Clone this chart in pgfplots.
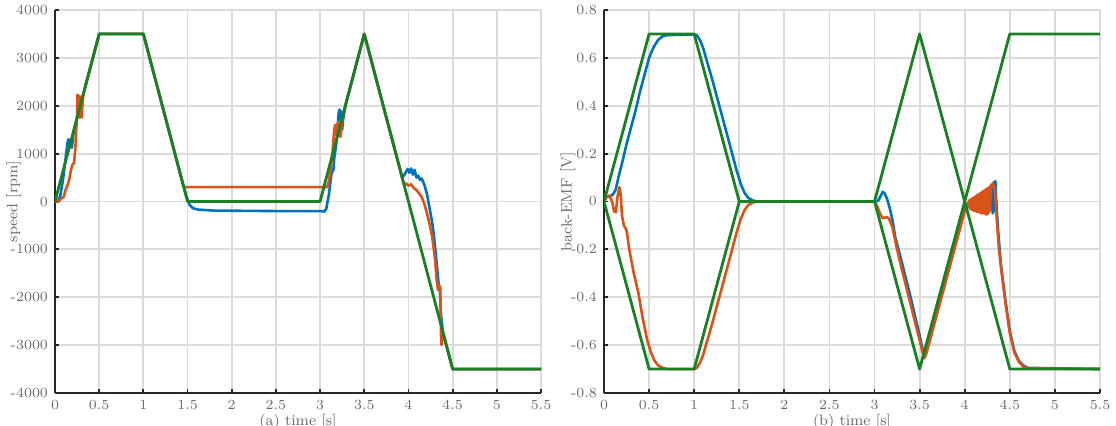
\documentclass[border=0pt]{standalone}
\usepackage{pgfplots}
\pgfplotsset{compat=1.18}
\definecolor{mblue}{RGB}{0,114,189}
\definecolor{morange}{RGB}{217,83,25}
\definecolor{mgreen}{RGB}{25,128,35}
\definecolor{lab}{RGB}{105,105,105}
\pgfplotsset{
 mystyle/.style={
  scale only axis, height=191.5pt,
  axis lines=left, axis line style={-, line width=1.1pt, color=black!85},
  tick align=inside, major tick length=2.2pt,
  tick style={line width=0.9pt, color=black!85},
  grid=major, grid style={line width=0.9pt, color=black!14},
  xmin=0, xmax=5.5,
  xtick={0,0.5,1,1.5,2,2.5,3,3.5,4,4.5,5,5.5},
  xticklabels={0,0.5,1,1.5,2,2.5,3,3.5,4,4.5,5,5.5},
  ticklabel style={font=\fontsize{7}{8}\selectfont, text=lab},
  every axis plot/.append style={line width=1.3pt, line join=round},
  every axis x label/.style={at={(axis description cs:0.5,-0.075)}, anchor=center, font=\fontsize{7.5}{8}\selectfont, text=lab},
  every axis y label/.style={rotate=90, anchor=center, inner sep=0pt, font=\fontsize{7.5}{8}\selectfont, text=lab},
 }}
\begin{document}
\begin{tikzpicture}
\useasboundingbox (0,0) rectangle (558pt,213pt);
% ---------- (a) speed ----------
\begin{axis}[mystyle, at={(27.5pt,16.5pt)}, anchor=south west, width=243pt,
  ymin=-4000, ymax=4000,
  ytick={-4000,-3000,-2000,-1000,0,1000,2000,3000,4000},
  yticklabels={-4000,-3000,-2000,-1000,0,1000,2000,3000,4000},
  xlabel={(a) time [s]}, ylabel={\textnormal{speed [rpm]}},
  ylabel style={at={(axis description cs:-0.085,0.5)}}]
\addplot[mblue] coordinates {(0,0)(0.03,0)(0.06,120)(0.09,450)(0.12,900)(0.14,1200)(0.15,1300)(0.16,1250)(0.17,1150)(0.18,1300)(0.19,1120)(0.21,1450)(0.25,1750)(0.5,3500)(1,3500)(1.44,420)(1.48,150)(1.52,-60)(1.56,-140)(1.62,-170)(1.8,-190)(2.5,-200)(3.0,-200)(3.05,-210)(3.07,-150)(3.1,150)(3.13,600)(3.15,650)(3.16,900)(3.19,1300)(3.21,1850)(3.22,1920)(3.23,1700)(3.24,1880)(3.25,1500)(3.26,1700)(3.29,2030)(3.5,3500)(3.93,500)(3.96,580)(3.99,680)(4.01,600)(4.03,690)(4.05,560)(4.07,660)(4.09,500)(4.11,540)(4.13,450)(4.15,480)(4.18,350)(4.21,150)(4.24,-150)(4.27,-450)(4.29,-750)(4.31,-1100)(4.33,-1500)(4.345,-1800)(4.355,-1850)(4.37,-2400)(4.39,-2730)(4.5,-3500)(5.5,-3500)};
\addplot[morange] coordinates {(0,0)(0.04,0)(0.07,60)(0.1,100)(0.12,250)(0.14,330)(0.16,450)(0.18,650)(0.2,780)(0.215,800)(0.23,1100)(0.24,1500)(0.25,1800)(0.255,2230)(0.265,2150)(0.275,1750)(0.28,2200)(0.29,1800)(0.3,1750)(0.32,2240)(0.5,3500)(1,3500)(1.457,300)(3.06,300)(3.08,300)(3.1,420)(3.12,700)(3.14,1000)(3.16,1500)(3.17,1600)(3.18,1400)(3.2,1650)(3.22,1550)(3.23,1350)(3.25,1700)(3.27,1890)(3.5,3500)(3.95,350)(3.97,380)(4.0,330)(4.03,360)(4.06,280)(4.09,240)(4.12,170)(4.15,90)(4.18,-50)(4.21,-250)(4.24,-480)(4.27,-750)(4.3,-1200)(4.32,-1650)(4.335,-1850)(4.345,-1750)(4.36,-1800)(4.37,-2950)(4.375,-3000)(4.38,-2750)(4.39,-2800)(4.4,-2800)(4.5,-3500)(5.5,-3500)};
\addplot[mgreen, line width=1.4pt] coordinates {(0,0)(0.5,3500)(1,3500)(1.5,0)(3,0)(3.5,3500)(4.5,-3500)(5.5,-3500)};
\end{axis}
% ---------- (b) back-EMF ----------
\begin{axis}[mystyle, at={(302pt,16.5pt)}, anchor=south west, width=248pt,
  ymin=-0.8, ymax=0.8,
  ytick={-0.8,-0.6,-0.4,-0.2,0,0.2,0.4,0.6,0.8},
  yticklabels={-0.8,-0.6,-0.4,-0.2,0,0.2,0.4,0.6,0.8},
  xlabel={(b) time [s]}, ylabel={back-EMF [V]},
  ylabel style={at={(axis description cs:-0.073,0.5)}}]
\addplot[mblue] coordinates {(0,0)(0.03,0.02)(0.06,0.02)(0.1,0.03)(0.13,0.05)(0.16,0.1)(0.2,0.16)(0.25,0.24)(0.3,0.31)(0.35,0.38)(0.4,0.46)(0.45,0.53)(0.5,0.6)(0.55,0.645)(0.6,0.675)(0.65,0.69)(0.7,0.695)(1.0,0.698)(1.03,0.695)(1.07,0.67)(1.1,0.64)(1.2,0.51)(1.3,0.37)(1.4,0.23)(1.47,0.13)(1.52,0.07)(1.56,0.035)(1.6,0.015)(1.65,0.004)(1.7,0)(3.0,0)(3.04,0.003)(3.07,0.025)(3.09,0.04)(3.11,0.035)(3.14,0.01)(3.17,-0.03)(3.2,-0.08)(3.23,-0.15)(3.3,-0.25)(3.4,-0.4)(3.5,-0.56)(3.54,-0.63)(3.56,-0.65)(3.58,-0.62)(3.6,-0.59)(3.7,-0.45)(3.8,-0.31)(3.9,-0.17)(4.0,-0.035)(4.04,-0.005)(4.06,-0.03)(4.08,0.0)(4.1,-0.035)(4.12,0.01)(4.14,-0.04)(4.16,0.02)(4.18,-0.045)(4.2,0.03)(4.22,-0.045)(4.24,0.04)(4.26,-0.05)(4.28,0.05)(4.3,0.04)(4.31,-0.05)(4.32,0.08)(4.33,-0.04)(4.34,0.085)(4.35,0.0)(4.37,-0.12)(4.4,-0.26)(4.45,-0.41)(4.5,-0.54)(4.55,-0.625)(4.6,-0.665)(4.65,-0.685)(4.7,-0.695)(5.5,-0.7)};
\addplot[morange] coordinates {(0,0)(0.03,0.02)(0.06,0.025)(0.09,0.0)(0.11,-0.04)(0.13,-0.045)(0.15,0.02)(0.17,0.06)(0.185,0.03)(0.2,-0.06)(0.22,-0.1)(0.25,-0.12)(0.28,-0.2)(0.33,-0.3)(0.38,-0.38)(0.43,-0.49)(0.48,-0.58)(0.52,-0.63)(0.56,-0.665)(0.6,-0.685)(0.65,-0.695)(0.7,-0.7)(1.0,-0.7)(1.03,-0.695)(1.07,-0.67)(1.1,-0.64)(1.2,-0.51)(1.3,-0.37)(1.4,-0.23)(1.47,-0.13)(1.52,-0.07)(1.56,-0.035)(1.6,-0.015)(1.65,-0.004)(1.7,0)(3.0,0)(3.03,-0.02)(3.06,-0.05)(3.09,-0.07)(3.13,-0.065)(3.16,-0.07)(3.2,-0.11)(3.25,-0.2)(3.3,-0.28)(3.4,-0.43)(3.5,-0.58)(3.54,-0.64)(3.55,-0.655)(3.57,-0.64)(3.6,-0.6)(3.7,-0.46)(3.8,-0.32)(3.9,-0.18)(4.0,-0.04)(4.04,-0.01)(4.05,0.005)(4.06,-0.03)(4.07,0.01)(4.08,-0.035)(4.09,0.015)(4.10,-0.04)(4.11,0.02)(4.12,-0.04)(4.13,0.025)(4.14,-0.045)(4.15,0.03)(4.16,-0.045)(4.17,0.035)(4.18,-0.05)(4.19,0.04)(4.2,-0.05)(4.21,0.045)(4.22,-0.05)(4.23,0.05)(4.24,-0.055)(4.25,0.055)(4.26,-0.05)(4.27,0.06)(4.28,-0.04)(4.29,0.07)(4.3,0.06)(4.31,0.075)(4.33,0.06)(4.34,0.02)(4.36,-0.1)(4.38,-0.2)(4.41,-0.3)(4.45,-0.42)(4.5,-0.55)(4.55,-0.63)(4.6,-0.67)(4.65,-0.69)(4.7,-0.697)(5.5,-0.7)};
\addplot[mgreen, line width=1.4pt] coordinates {(0,0)(0.5,0.7)(1,0.7)(1.5,0)(3,0)(3.5,0.7)(4.5,-0.7)(5.5,-0.7)};
\addplot[mgreen, line width=1.4pt] coordinates {(0,0)(0.5,-0.7)(1,-0.7)(1.5,0)(3,0)(3.5,-0.7)(4.5,0.7)(5.5,0.7)};
\end{axis}
\end{tikzpicture}
\end{document}
